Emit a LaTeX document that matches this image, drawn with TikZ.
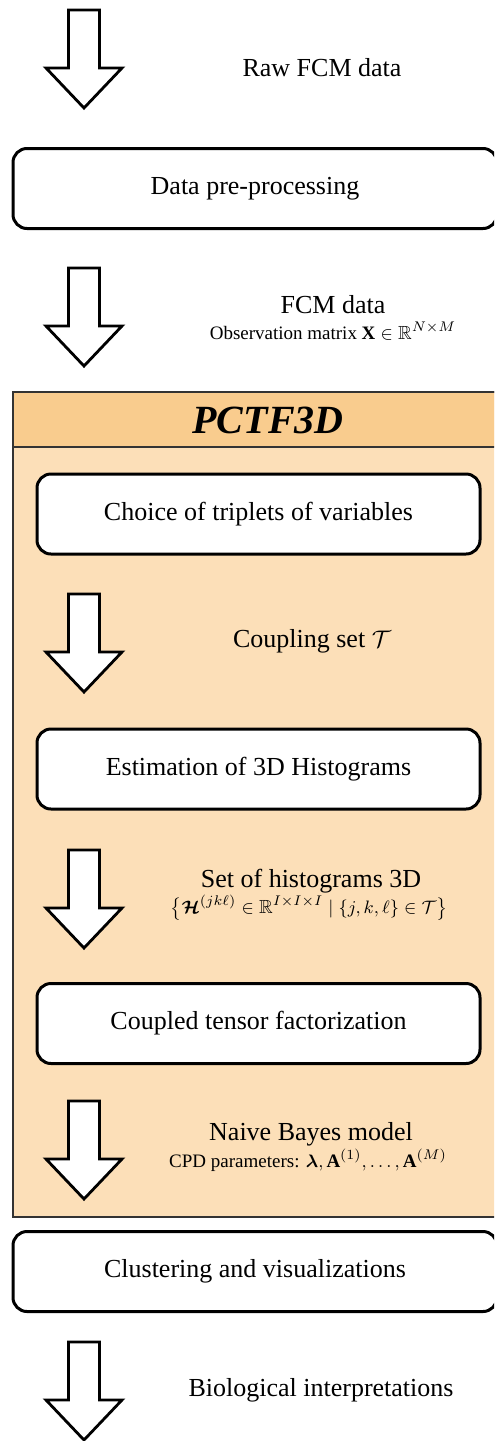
\documentclass[tikz,border=0pt]{standalone}
\usepackage{amsmath}
\usepackage{amssymb}
\usepackage{bm}
\usepackage{fontspec}
\setmainfont{Liberation Serif}
\usetikzlibrary{positioning}

\definecolor{pctfhead}{RGB}{249,204,142}
\definecolor{pctfbody}{RGB}{252,223,184}

% hollow block arrow, #1 = y of its top
\newcommand{\blockarrow}[1]{%
  \draw[line width=1.4pt, fill=white, line join=miter]
    (68.5,#1) -- (99.5,#1) -- (99.5,#1+58) -- (122,#1+58) -- (84,#1+98)
    -- (46,#1+58) -- (68.5,#1+58) -- cycle;}

\begin{document}
\begin{tikzpicture}[x=0.5pt, y=-0.5pt, every node/.style={font=\fontsize{13}{15}\selectfont},
	stepbox/.style={draw, line width=1.5pt, rounded corners=7pt, fill=white, minimum height=40pt, inner sep=0pt},
	steplabel/.style={inner sep=0pt},
	smalltext/.style={font=\fontsize{9.5}{11}\selectfont, inner sep=0pt}]
		\useasboundingbox (0,0) rectangle (494,1441);
		\clip (0,0) rectangle (494,1441);
		
		% PCTF3D frame
		\draw[line width=1pt, draw=black!80, fill=pctfbody] (13,392) rectangle (530,1217);
		\draw[line width=1pt, draw=black!80, fill=pctfhead] (13,392) rectangle (530,447);
		\node[font=\fontsize{20}{24}\selectfont\bfseries\itshape] (pctf) at (268,420) {PCTF3D};
		
		\blockarrow{10}
		\node (raw) at (322,68) {Raw FCM data};
		
		\node[stepbox, minimum width=242pt] (prep) at (255,188.5) {Data pre-processing};
		
		\blockarrow{268}
		\node[steplabel] (fcm) at (333,305) {FCM data};
		\node[smalltext] (obs) at (333,331) {Observation matrix $\mathbf{X}\in\mathbb{R}^{N\times M}$};
		
		\node[stepbox, minimum width=221.5pt] (choice) at (258.5,514) {Choice of triplets of variables};
		
		\blockarrow{594}
		\node (coupling) at (312,641) {Coupling set $\mathcal{T}$};
		
		\node[stepbox, minimum width=221.5pt] (estim) at (258.5,769) {Estimation of 3D Histograms};
		
		\blockarrow{850}
		\node[steplabel] (histset) at (311,881) {Set of histograms 3D};
		\node[smalltext] (histmath) at (309,908) {$\big\{\bm{\mathcal{H}}^{(jk\ell)}\in\mathbb{R}^{I\times I\times I}\mid\{j,k,\ell\}\in\mathcal{T}\big\}$};
		
		\node[stepbox, minimum width=221.5pt] (ctf) at (258.5,1023.5) {Coupled tensor factorization};
		
		\blockarrow{1101}
		\node[steplabel] (naive) at (311,1134) {Naive Bayes model};
		\node[smalltext] (cpd) at (308,1160) {CPD parameters: $\bm{\lambda},\mathbf{A}^{(1)},\ldots,\mathbf{A}^{(M)}$};
		
		\node[stepbox, minimum width=242pt] (clust) at (255,1271.5) {Clustering and visualizations};
		
		\blockarrow{1342}
		\node (bio) at (321,1390) {Biological interpretations};
	\end{tikzpicture}
\end{document}
